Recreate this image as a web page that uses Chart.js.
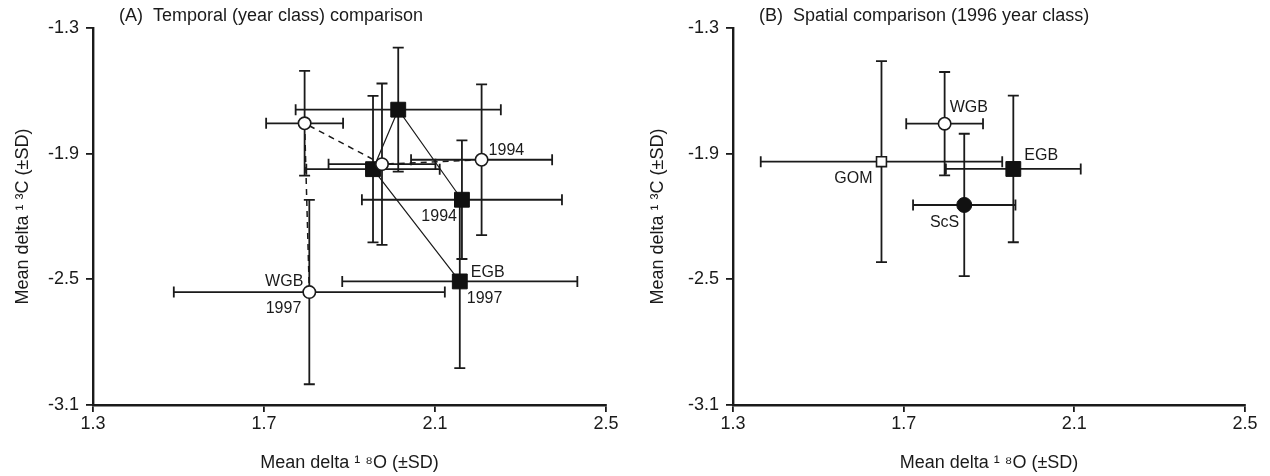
<!DOCTYPE html>
<html><head><meta charset="utf-8">
<script src="https://cdn.jsdelivr.net/npm/chart.js@4.4.1/dist/chart.umd.min.js"></script>
<style>
html,body{margin:0;padding:0;background:#fff;}
#wrap{position:relative;width:1270px;height:476px;overflow:hidden;}
canvas{position:absolute;top:0;}
#ca{left:0;}
#cb{left:635px;}
</style></head><body>
<div id="wrap"><canvas id="ca" width="635" height="476"></canvas><canvas id="cb" width="635" height="476"></canvas></div>
<script>
// ---------- DATA ----------
const xTicks = [1.3, 1.7, 2.1, 2.5];
const yTicks = [-3.1, -2.5, -1.9, -1.3];
const titleA = '(A)  Temporal (year class) comparison';
const titleB = '(B)  Spatial comparison (1996 year class)';
const xTitle = 'Mean delta \u00B9 \u2078O (\u00B1SD)';
const yTitle = 'Mean delta \u00B9 \u00B3C (\u00B1SD)';

// Panel A: year classes 1994-1997
const yearsA = [1994, 1995, 1996, 1997];
const wgbX   = [2.209, 1.976, 1.795, 1.806];
const wgbY   = [-1.929, -1.950, -1.755, -2.561];
const wgbSdX = [0.165, 0.125, 0.090, 0.317];
const wgbSdY = [0.360, 0.385, 0.250, 0.440];
const egbX   = [2.163, 2.014, 1.955, 2.158];
const egbY   = [-2.120, -1.690, -1.974, -2.510];
const egbSdX = [0.234, 0.240, 0.156, 0.275];
const egbSdY = [0.283, 0.296, 0.350, 0.414];
const labelsA = ['1994', '1994', 'EGB', '1997', 'WGB', '1997'];

// Panel B: 1996 year class by site
const sitesB = ['GOM', 'WGB', 'EGB', 'ScS'];
const bX   = [1.648, 1.796, 1.957, 1.842];
const bY   = [-1.938, -1.757, -1.973, -2.145];
const bSdX = [0.283, 0.090, 0.158, 0.120];
const bSdY = [0.480, 0.247, 0.350, 0.340];

// ---------- STYLE ----------
const FONT = "'Liberation Sans', Arial, Helvetica, sans-serif";
const INK = '#1a1a1a';
const CAP = 5.5;

function pts(xs, ys) { return xs.map((v, i) => ({x: v, y: ys[i]})); }

const errorBars = {
  id: 'errorBars',
  beforeDatasetsDraw(chart) {
    const {ctx, scales: {x, y}} = chart;
    ctx.save();
    ctx.strokeStyle = INK;
    ctx.lineWidth = 1.8;
    ctx.lineCap = 'butt';
    chart.data.datasets.forEach(ds => {
      if (!ds.sdX) return;
      ds.data.forEach((p, i) => {
        const px = x.getPixelForValue(p.x), py = y.getPixelForValue(p.y);
        const xl = x.getPixelForValue(p.x - ds.sdX[i]), xr = x.getPixelForValue(p.x + ds.sdX[i]);
        const yt = y.getPixelForValue(p.y + ds.sdY[i]), yb = y.getPixelForValue(p.y - ds.sdY[i]);
        ctx.beginPath();
        ctx.moveTo(xl, py); ctx.lineTo(xr, py);
        ctx.moveTo(xl, py - CAP); ctx.lineTo(xl, py + CAP);
        ctx.moveTo(xr, py - CAP); ctx.lineTo(xr, py + CAP);
        ctx.moveTo(px, yt); ctx.lineTo(px, yb);
        ctx.moveTo(px - CAP, yt); ctx.lineTo(px + CAP, yt);
        ctx.moveTo(px - CAP, yb); ctx.lineTo(px + CAP, yb);
        ctx.stroke();
      });
    });
    ctx.restore();
  }
};

const annotations = {
  id: 'annotations',
  afterDatasetsDraw(chart, args, opts) {
    const {ctx, scales: {x, y}} = chart;
    ctx.save();
    ctx.fillStyle = INK;
    ctx.font = '16px ' + FONT;
    ctx.textBaseline = 'middle';
    (opts.items || []).forEach(it => {
      const p = chart.data.datasets[it.ds].data[it.i];
      ctx.textAlign = it.align;
      ctx.fillText(it.text, x.getPixelForValue(p.x) + it.dx, y.getPixelForValue(p.y) + it.dy);
    });
    // panel title
    ctx.font = '18px ' + FONT;
    ctx.textAlign = 'left';
    ctx.fillText(opts.title, chart.chartArea.left + 26, 16);
    ctx.restore();
  }
};

function scales(yWidth) {
  const axisCommon = {
    type: 'linear',
    grid: {display: true, drawOnChartArea: false, drawTicks: true, tickLength: 7, color: INK, lineWidth: 1.8},
    border: {display: true, color: INK, width: 2.4},
  };
  return {
    x: Object.assign({}, axisCommon, {
      min: 1.3, max: 2.5,
      afterBuildTicks: s => { s.ticks = xTicks.map(v => ({value: v})); },
      afterFit: s => { s.height = 71; },
      ticks: {callback: v => Number(v).toFixed(1), font: {size: 18, family: FONT}, color: INK, padding: 1, maxRotation: 0},
      title: {display: true, text: xTitle, font: {size: 18, family: FONT}, color: INK, padding: {top: 0, bottom: 2}}
    }),
    y: Object.assign({}, axisCommon, {
      min: -3.1, max: -1.3,
      afterBuildTicks: s => { s.ticks = yTicks.map(v => ({value: v})); },
      afterFit: s => { s.width = yWidth; },
      ticks: {callback: v => Number(v).toFixed(1), font: {size: 18, family: FONT}, color: INK, padding: 7},
      title: {display: true, text: yTitle, font: {size: 18, family: FONT}, color: INK, padding: {top: 12, bottom: 0}}
    })
  };
}

function baseOptions(yWidth, rightPad, annot) {
  return {
    responsive: false, animation: false, devicePixelRatio: 1,
    layout: {padding: {left: 0, right: rightPad, top: 28, bottom: 0}},
    plugins: {legend: {display: false}, tooltip: {enabled: false}, title: {display: false}, annotations: annot},
    scales: scales(yWidth)
  };
}

// ---------- PANEL A ----------
new Chart(document.getElementById('ca'), {
  type: 'scatter',
  data: {
    datasets: [
      {label: 'WGB', data: pts(wgbX, wgbY), sdX: wgbSdX, sdY: wgbSdY, years: yearsA,
       showLine: true, borderColor: INK, borderWidth: 1.5, borderDash: [6, 5],
       pointStyle: 'circle', pointRadius: 6.2, pointBackgroundColor: '#fff', pointBorderColor: INK, pointBorderWidth: 1.6},
      {label: 'EGB', data: pts(egbX, egbY), sdX: egbSdX, sdY: egbSdY, years: yearsA,
       showLine: true, borderColor: INK, borderWidth: 1.2,
       pointStyle: 'rect', pointRadius: 10.5, pointBackgroundColor: '#111', pointBorderColor: '#111', pointBorderWidth: 1}
    ]
  },
  options: baseOptions(93, 29, {
    title: titleA,
    items: [
      {text: labelsA[0], ds: 0, i: 0, dx: 7, dy: -9, align: 'left'},
      {text: labelsA[1], ds: 1, i: 0, dx: -5, dy: 17, align: 'right'},
      {text: labelsA[2], ds: 1, i: 3, dx: 11, dy: -9, align: 'left'},
      {text: labelsA[3], ds: 1, i: 3, dx: 7, dy: 17, align: 'left'},
      {text: labelsA[4], ds: 0, i: 3, dx: -6, dy: -11, align: 'right'},
      {text: labelsA[5], ds: 0, i: 3, dx: -8, dy: 16, align: 'right'}
    ]
  }),
  plugins: [errorBars, annotations]
});

// ---------- PANEL B ----------
const styleB = [
  {pointStyle: 'rect', pointRadius: 7, pointBackgroundColor: '#fff', pointBorderColor: INK, pointBorderWidth: 1.6},
  {pointStyle: 'circle', pointRadius: 6.2, pointBackgroundColor: '#fff', pointBorderColor: INK, pointBorderWidth: 1.6},
  {pointStyle: 'rect', pointRadius: 10.5, pointBackgroundColor: '#111', pointBorderColor: '#111', pointBorderWidth: 1},
  {pointStyle: 'circle', pointRadius: 7.5, pointBackgroundColor: '#111', pointBorderColor: '#111', pointBorderWidth: 1}
];
new Chart(document.getElementById('cb'), {
  type: 'scatter',
  data: {
    datasets: sitesB.map((s, i) => Object.assign({
      label: s, data: [{x: bX[i], y: bY[i]}], sdX: [bSdX[i]], sdY: [bSdY[i]], showLine: false
    }, styleB[i]))
  },
  options: baseOptions(98, 25, {
    title: titleB,
    items: [
      {text: sitesB[0], ds: 0, i: 0, dx: -9, dy: 17, align: 'right'},
      {text: sitesB[1], ds: 1, i: 0, dx: 5, dy: -16, align: 'left'},
      {text: sitesB[2], ds: 2, i: 0, dx: 11, dy: -13, align: 'left'},
      {text: sitesB[3], ds: 3, i: 0, dx: -5, dy: 18, align: 'right'}
    ]
  }),
  plugins: [errorBars, annotations]
});
</script>
</body></html>
